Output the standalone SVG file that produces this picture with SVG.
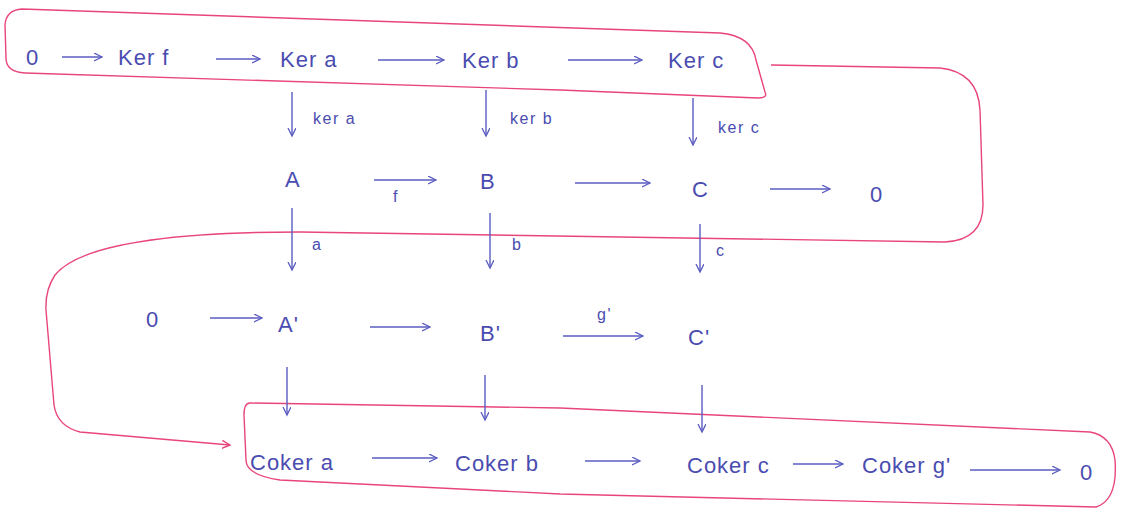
<svg xmlns="http://www.w3.org/2000/svg" width="1122" height="518" viewBox="0 0 1122 518">
<defs>
<style>
.t{font-family:"Liberation Sans",Arial,sans-serif;font-size:22px;letter-spacing:1px;fill:#4a4cb0}
.s{font-family:"Liberation Sans",Arial,sans-serif;font-size:16px;letter-spacing:1.5px;fill:#4a4cb0}
.a{stroke:#5a5cc0;stroke-width:1.4;fill:none;marker-end:url(#ah)}
.r{stroke:#e8467a;stroke-width:1.4;fill:none}
</style>
<marker id="ah" markerWidth="10" markerHeight="10" refX="8" refY="4" orient="auto" markerUnits="userSpaceOnUse">
<path d="M0,0 L8,4 L0,8" fill="none" stroke="#5a5cc0" stroke-width="1.3"/>
</marker>
<marker id="rh" markerWidth="10" markerHeight="10" refX="8" refY="4" orient="auto" markerUnits="userSpaceOnUse">
<path d="M0,0 L8,4 L0,8" fill="none" stroke="#e8467a" stroke-width="1.4"/>
</marker>
</defs>
<rect width="1122" height="518" fill="#ffffff"/>
<g id="highlights">
<path class="r" d="M22,9 L720,33 Q752,36 756,60 L765,92 Q768,98 758,98 L560,90 L25,73 Q6,72 6,58 L5,25 Q6,10 22,9 Z"/>
<path class="r" marker-end="url(#rh)" d="M771,65 L940,68 Q978,72 980,110 L983,205 Q983,240 945,242 L300,232 Q90,232 55,275 Q45,290 46,310 L54,405 Q57,426 80,432 L230,445"/>
<path class="r" d="M250,403 L560,408 L1090,432 Q1112,436 1115,460 Q1118,500 1096,507 L560,494 L280,480 Q246,475 246,460 L244,415 Q244,403 250,403 Z"/>
</g>
<g id="connectors">
<line class="a" x1="62" y1="57" x2="102" y2="57"/>
<line class="a" x1="216" y1="59" x2="260" y2="59"/>
<line class="a" x1="378" y1="60" x2="444" y2="60"/>
<line class="a" x1="568" y1="60" x2="642" y2="60"/>
<line class="a" x1="292" y1="92" x2="292" y2="136"/>
<line class="a" x1="486" y1="90" x2="486" y2="136"/>
<line class="a" x1="693" y1="98" x2="693" y2="145"/>
<line class="a" x1="374" y1="180" x2="436" y2="180"/>
<line class="a" x1="575" y1="183" x2="650" y2="183"/>
<line class="a" x1="770" y1="189" x2="830" y2="189"/>
<line class="a" x1="292" y1="208" x2="292" y2="270"/>
<line class="a" x1="490" y1="213" x2="490" y2="268"/>
<line class="a" x1="700" y1="224" x2="700" y2="272"/>
<line class="a" x1="210" y1="318" x2="262" y2="318"/>
<line class="a" x1="370" y1="327" x2="430" y2="327"/>
<line class="a" x1="563" y1="336" x2="643" y2="336"/>
<line class="a" x1="287" y1="367" x2="287" y2="415"/>
<line class="a" x1="485" y1="375" x2="485" y2="420"/>
<line class="a" x1="702" y1="385" x2="702" y2="432"/>
<line class="a" x1="372" y1="458" x2="437" y2="458"/>
<line class="a" x1="585" y1="461" x2="640" y2="461"/>
<line class="a" x1="793" y1="464" x2="843" y2="464"/>
<line class="a" x1="970" y1="470" x2="1060" y2="470"/>
</g>
<g id="edge-labels">
<text class="s" x="313" y="124">ker a</text>
<text class="s" x="510" y="124">ker b</text>
<text class="s" x="718" y="133">ker c</text>
<text class="s" x="393" y="202">f</text>
<text class="s" x="312" y="250">a</text>
<text class="s" x="512" y="250">b</text>
<text class="s" x="716" y="256">c</text>
<text class="s" x="597" y="320">g'</text>
</g>
<g id="n-zero1"><text class="t" x="26" y="65">0</text></g>
<g id="n-kerf"><text class="t" x="118" y="65">Ker f</text></g>
<g id="n-kera"><text class="t" x="280" y="67">Ker a</text></g>
<g id="n-kerb"><text class="t" x="462" y="68">Ker b</text></g>
<g id="n-kerc"><text class="t" x="668" y="68">Ker c</text></g>
<g id="n-A"><text class="t" x="285" y="187">A</text></g>
<g id="n-B"><text class="t" x="480" y="189">B</text></g>
<g id="n-C"><text class="t" x="692" y="197">C</text></g>
<g id="n-zero2"><text class="t" x="870" y="202">0</text></g>
<g id="n-zero3"><text class="t" x="146" y="327">0</text></g>
<g id="n-A1"><text class="t" x="278" y="332">A'</text></g>
<g id="n-B1"><text class="t" x="480" y="341">B'</text></g>
<g id="n-C1"><text class="t" x="688" y="345">C'</text></g>
<g id="n-cokera"><text class="t" x="250" y="470">Coker a</text></g>
<g id="n-cokerb"><text class="t" x="455" y="471">Coker b</text></g>
<g id="n-cokerc"><text class="t" x="687" y="473">Coker c</text></g>
<g id="n-cokerg"><text class="t" x="862" y="473">Coker g'</text></g>
<g id="n-zero4"><text class="t" x="1080" y="480">0</text></g>
</svg>
